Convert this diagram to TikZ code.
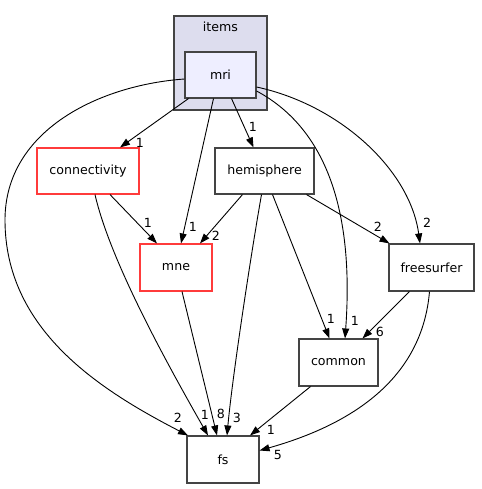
\documentclass[tikz,border=0pt]{standalone}
\usepackage{fontspec}
\setmainfont{DejaVu Sans}
\usetikzlibrary{arrows.meta,calc}
\definecolor{clusterfill}{HTML}{DDDDEE}
\definecolor{mrifill}{HTML}{EEEEFF}
\definecolor{bordergray}{HTML}{444444}
\definecolor{softred}{HTML}{FF3B3B}
\begin{document}
\begin{tikzpicture}[x=1pt,y=-1pt,
  box/.style={draw=bordergray,line width=1.1pt,fill=white,minimum height=46pt,inner sep=0pt,font=\fontsize{12.6}{14}\selectfont},
  redbox/.style={box,draw=softred},
  dep/.style={line width=0.9pt,-{Triangle[length=10pt,width=7pt]}},
  lbl/.style={font=\fontsize{12.6}{14}\selectfont,inner sep=0pt}]
\useasboundingbox (0,0) rectangle (481,489);
% cluster
\node[draw=bordergray,line width=1.1pt,fill=clusterfill,minimum width=93pt,minimum height=94pt,inner sep=0pt] (items) at (220.5,63) {};
\node[lbl] (itemslbl) at (220.5,27) {items};
\node[box,fill=mrifill,minimum width=71pt] (mri) at (220.5,75) {mri};
\node[redbox,minimum width=102pt] (conn) at (88,171) {connectivity};
\node[box,minimum width=99pt] (hemi) at (264.5,171) {hemisphere};
\node[redbox,minimum width=72pt,minimum height=47pt] (mne) at (176,267.5) {mne};
\node[box,minimum width=85pt,minimum height=47pt] (free) at (431.5,267.5) {freesurfer};
\node[box,minimum width=79pt,minimum height=47pt] (common) at (338.5,362.5) {common};
\node[box,minimum width=72pt,minimum height=47pt] (fs) at (223,459.5) {fs};
% edges
\draw[dep] ([xshift=-32pt]mri.south) -- ([xshift=32pt]conn.north);
\draw[dep] ([xshift=-7pt]mri.south) -- ([xshift=5pt]mne.north);
\draw[dep] ([xshift=11pt]mri.south) -- ([xshift=-11pt]hemi.north);
\draw[dep] ([yshift=-4pt]mri.west) .. controls (100,85) and (5,130) .. (5,220) .. controls (5,330) and (100,390) .. ([xshift=-35pt]fs.north);
\draw[dep] ([yshift=-16pt]mri.east) .. controls (320,125) and (355,200) .. ([xshift=6.5pt]common.north);
\draw[dep] ([yshift=-12pt]mri.east) .. controls (340,105) and (410,170) .. ([xshift=-11.5pt]free.north);
\draw[dep] ([xshift=22pt]conn.south) -- ([xshift=-19pt]mne.north);
\draw[dep] ([xshift=7pt]conn.south) .. controls (110,260) and (165,360) .. ([xshift=-15pt]fs.north);
\draw[dep] ([xshift=6pt]mne.south) -- ([xshift=-6pt]fs.north);
\draw[dep] ([xshift=-22pt]hemi.south) -- ([xshift=24pt]mne.north);
\draw[dep] ([xshift=-3pt]hemi.south) .. controls (250,260) and (232,380) .. ([xshift=4pt]fs.north);
\draw[dep] ([xshift=8pt]hemi.south) -- ([xshift=-9pt]common.north);
\draw[dep] ([xshift=42pt]hemi.south) -- ([xshift=-42pt]free.north);
\draw[dep] ([xshift=-22pt]free.south) -- ([xshift=24pt]common.north);
\draw[dep] ([xshift=-2pt]free.south) .. controls (422,380) and (350,425) .. ([yshift=9pt]fs.east);
\draw[dep] ([xshift=-28pt]common.south) -- ([xshift=27pt]fs.north);
% labels
\node[lbl] (l1) at (140,143) {1};
\node[lbl] (l2) at (193,227) {1};
\node[lbl] (l3) at (253,127) {1};
\node[lbl] (l4) at (178,418) {2};
\node[lbl] (l5) at (355,321) {1};
\node[lbl] (l6) at (427,223) {2};
\node[lbl] (l7) at (148,223) {1};
\node[lbl] (l8) at (205,415) {1};
\node[lbl] (l9) at (221,414) {8};
\node[lbl] (l10) at (216,236) {2};
\node[lbl] (l11) at (237,418) {3};
\node[lbl] (l12) at (331,319) {1};
\node[lbl] (l13) at (378,227) {2};
\node[lbl] (l14) at (380,332) {6};
\node[lbl] (l15) at (278,455) {5};
\node[lbl] (l16) at (271,430) {1};
\end{tikzpicture}
\end{document}
